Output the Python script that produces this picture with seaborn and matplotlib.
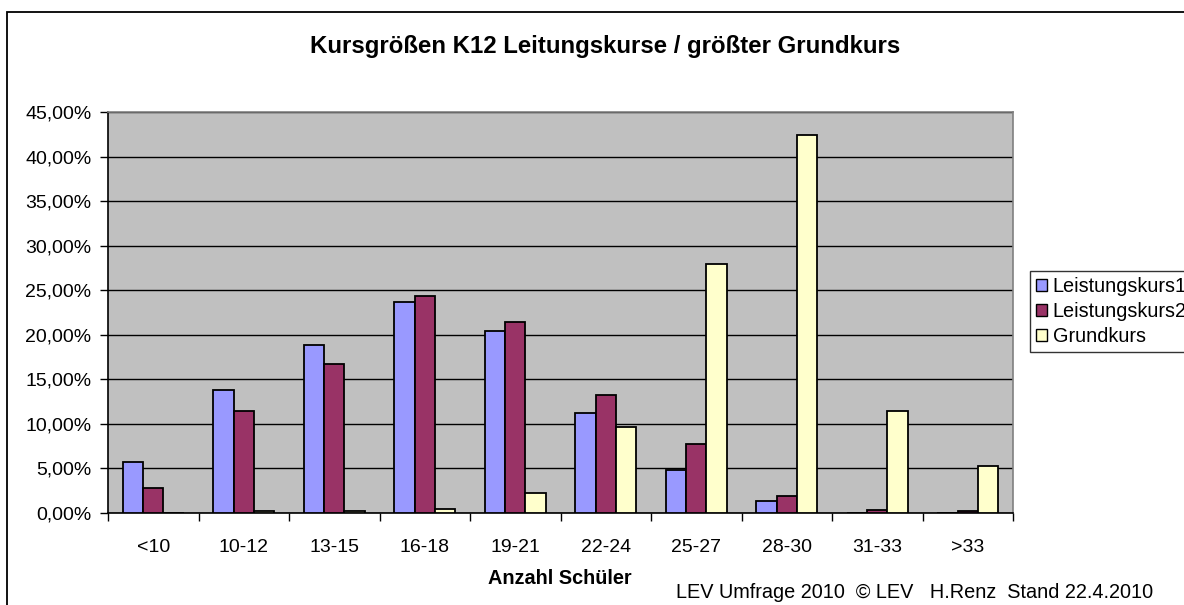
import matplotlib
matplotlib.use("Agg")
import matplotlib.pyplot as plt
import matplotlib.patches as mpatches
import matplotlib.ticker as mticker
import numpy as np
import pandas as pd
import seaborn as sns

# Class-size categories (number of students) and share of courses per category
categories = ["<10", "10-12", "13-15", "16-18", "19-21", "22-24", "25-27", "28-30", "31-33", ">33"]
leistungskurs1 = [5.7, 13.8, 18.9, 23.7, 20.4, 11.2, 4.8, 1.4, 0.0, 0.0]
leistungskurs2 = [2.8, 11.4, 16.7, 24.4, 21.4, 13.2, 7.7, 1.9, 0.35, 0.2]
grundkurs = [0.0, 0.2, 0.2, 0.4, 2.2, 9.7, 27.9, 42.4, 11.5, 5.3]
series_names = ["Leistungskurs1", "Leistungskurs2", "Grundkurs"]
colors = ["#9999FF", "#993366", "#FFFFCC"]
ytick_values = [0, 5, 10, 15, 20, 25, 30, 35, 40, 45]

df = pd.DataFrame({
    "Kategorie": categories * 3,
    "Anteil": leistungskurs1 + leistungskurs2 + grundkurs,
    "Kurs": [series_names[0]] * len(categories)
            + [series_names[1]] * len(categories)
            + [series_names[2]] * len(categories),
})

sns.set_theme(style="white")
plt.rcParams["font.family"] = ["Liberation Sans", "DejaVu Sans"]
plt.rcParams["text.color"] = "black"

W, H = 1184, 605
fig = plt.figure(figsize=(W / 100, H / 100), dpi=100)
fig.patch.set_facecolor("white")

# Outer chart border (left and top edges visible)
fig.add_artist(mpatches.Rectangle((7 / W, -0.1), 1.2, 1 - 12 / H + 0.1,
                                  transform=fig.transFigure, fill=False,
                                  edgecolor="black", linewidth=1.3))

left, right, top, bottom = 108, 1013, 112, 513
ax = fig.add_axes([left / W, 1 - bottom / H, (right - left) / W, (bottom - top) / H])
ax.set_facecolor("#C0C0C0")

sns.barplot(data=df, x="Kategorie", y="Anteil", hue="Kurs", order=categories,
            hue_order=series_names, palette=colors, width=0.67, ax=ax,
            edgecolor="black", linewidth=1.3, saturation=1, legend=False, zorder=3)

ax.set_ylim(0, 45)
ax.set_xlim(-0.5, len(categories) - 0.5)
ax.set_yticks(ytick_values)
ax.yaxis.set_major_formatter(mticker.FuncFormatter(lambda v, _: f"{v:.2f}%".replace(".", ",")))
ax.yaxis.grid(True, color="black", linewidth=1.0, zorder=0)
ax.set_axisbelow(True)

# Category labels at centres, tick marks on category boundaries
ax.set_xticks(range(len(categories)))
ax.set_xticklabels(categories)
ax.tick_params(axis="x", which="major", length=0, pad=19, labelsize=14, labelcolor="black")
ax.set_xticks(np.arange(-0.5, len(categories), 1.0), minor=True)
ax.tick_params(axis="x", which="minor", length=6, width=1, color="black", direction="out", bottom=True)
ax.tick_params(axis="y", which="major", length=6, width=1, color="black", direction="out",
               left=True, labelsize=14, labelcolor="black", pad=6)

for side in ["left", "bottom"]:
    ax.spines[side].set_color("black")
    ax.spines[side].set_linewidth(1.2)
for side in ["top", "right"]:
    ax.spines[side].set_color("#808080")
    ax.spines[side].set_linewidth(1.2)

ax.set_xlabel("")
ax.set_ylabel("")

fig.text(605 / W, 1 - 47 / H, "Kursgrößen K12 Leitungskurse / größter Grundkurs",
         ha="center", va="center", fontsize=17.3, fontweight="bold")
fig.text(560 / W, 1 - 578 / H, "Anzahl Schüler", ha="center", va="center",
         fontsize=14.3, fontweight="bold")
fig.text(676 / W, 1 - 592 / H, "LEV Umfrage 2010  © LEV   H.Renz  Stand 22.4.2010",
         ha="left", va="center", fontsize=14.3)

handles = [mpatches.Patch(facecolor=c, edgecolor="black", linewidth=1.0, label=n)
           for c, n in zip(colors, series_names)]
leg = fig.legend(handles=handles, loc="upper left", bbox_to_anchor=(1030 / W, 1 - 271 / H),
                 frameon=True, fancybox=False, edgecolor="black", fontsize=14.3,
                 handlelength=0.55, handleheight=0.55, handletextpad=0.3,
                 labelspacing=0.3, borderpad=0.3, borderaxespad=0)
leg.get_frame().set_linewidth(1.0)

fig.savefig("out.png", dpi=100)
